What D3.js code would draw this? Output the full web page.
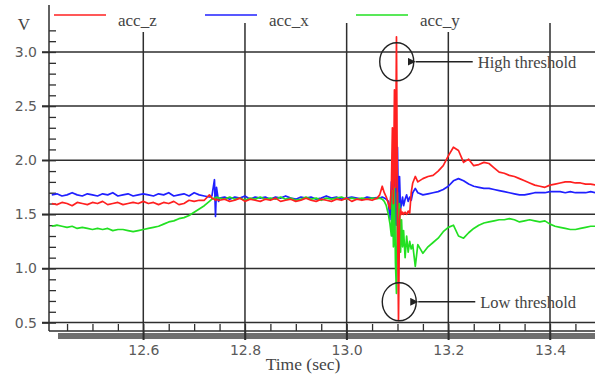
<!DOCTYPE html>
<html>
<head>
<meta charset="utf-8">
<script src="https://cdn.jsdelivr.net/npm/d3@7"></script>
<style>
  body { margin: 0; background: #fff; }
  svg { display: block; }
</style>
</head>
<body>
<div id="chart"></div>
<script>
// sample times (sec), finer around the impact
const times = [
  12.42, 12.43, 12.44, 12.45, 12.46, 12.47, 12.48, 12.49, 12.50, 12.51,
  12.52, 12.53, 12.54, 12.55, 12.56, 12.57, 12.58, 12.59, 12.60, 12.61,
  12.62, 12.63, 12.64, 12.65, 12.66, 12.67, 12.68, 12.69, 12.70, 12.71,
  12.72, 12.73,
  12.735, 12.74, 12.742, 12.744, 12.748,
  12.75, 12.76, 12.77, 12.78, 12.79, 12.80, 12.81, 12.82, 12.83, 12.84,
  12.85, 12.86, 12.87, 12.88, 12.89, 12.90, 12.91, 12.92, 12.93, 12.94,
  12.95, 12.96, 12.97, 12.98, 12.99, 13.00, 13.01, 13.02, 13.03, 13.04,
  13.05,
  13.06, 13.065, 13.07, 13.074, 13.078, 13.082, 13.085, 13.088, 13.09, 13.092,
  13.094, 13.096, 13.098, 13.1, 13.102, 13.104, 13.106, 13.108, 13.11, 13.112,
  13.115, 13.118, 13.121, 13.124, 13.127, 13.13, 13.135,
  13.14, 13.15, 13.16, 13.17, 13.18, 13.19, 13.20, 13.21, 13.22, 13.23,
  13.24, 13.25, 13.26, 13.27, 13.28, 13.29, 13.30, 13.31, 13.32, 13.33,
  13.34, 13.35, 13.36, 13.37, 13.38, 13.39, 13.40, 13.41, 13.42, 13.43,
  13.44, 13.45, 13.46, 13.47, 13.48, 13.49
];

const accZ = [
  1.60, 1.59, 1.61, 1.60, 1.58, 1.61, 1.60, 1.59, 1.61, 1.60,
  1.62, 1.59, 1.60, 1.61, 1.59, 1.60, 1.61, 1.60, 1.62, 1.60,
  1.61, 1.59, 1.61, 1.60, 1.62, 1.59, 1.60, 1.63, 1.62, 1.63,
  1.63, 1.68,
  1.65, 1.64, 1.63, 1.64, 1.63,
  1.63, 1.64, 1.62, 1.63, 1.65, 1.62, 1.64, 1.63, 1.62, 1.64,
  1.63, 1.65, 1.62, 1.63, 1.64, 1.62, 1.63, 1.65, 1.63, 1.62,
  1.64, 1.63, 1.62, 1.64, 1.63, 1.65, 1.62, 1.64, 1.63, 1.64,
  1.63,
  1.65, 1.68, 1.76, 1.70, 1.66, 1.60, 1.55, 1.75, 2.30, 1.60,
  2.65, 1.75, 3.14, 1.50, 0.52, 1.45, 1.55, 1.50, 1.52, 1.50,
  1.52, 1.50, 1.53, 1.51, 1.70, 1.79, 1.85,
  1.80, 1.83, 1.85, 1.86, 1.90, 1.95, 2.04, 2.12, 2.09, 1.98,
  2.01, 1.95, 1.96, 1.98, 1.97, 1.93, 1.89, 1.88, 1.86, 1.85,
  1.83, 1.81, 1.79, 1.77, 1.76, 1.75, 1.77, 1.78, 1.79, 1.80,
  1.80, 1.79, 1.79, 1.78, 1.78, 1.77
];

const accX = [
  1.68, 1.69, 1.67, 1.68, 1.70, 1.68, 1.67, 1.69, 1.68, 1.67,
  1.69, 1.68, 1.70, 1.67, 1.68, 1.69, 1.67, 1.68, 1.69, 1.68,
  1.67, 1.69, 1.68, 1.70, 1.67, 1.68, 1.69, 1.67, 1.70, 1.68,
  1.67, 1.66,
  1.67, 1.82, 1.48, 1.75, 1.62,
  1.65, 1.66, 1.64, 1.66, 1.65, 1.67, 1.64, 1.66, 1.65, 1.66,
  1.64, 1.66, 1.65, 1.67, 1.65, 1.64, 1.66, 1.65, 1.66, 1.64,
  1.65, 1.67, 1.65, 1.66, 1.64, 1.65, 1.66, 1.65, 1.64, 1.66,
  1.65,
  1.655, 1.65, 1.66, 1.65, 1.64, 1.62, 1.45, 1.80, 1.30, 1.95,
  1.22, 1.90, 1.40, 2.12, 1.50, 1.85, 1.55, 1.60, 1.66, 1.58,
  1.64, 1.68, 1.62, 1.66, 1.63, 1.70, 1.74,
  1.70, 1.68, 1.69, 1.70, 1.71, 1.73, 1.76, 1.81, 1.83, 1.81,
  1.78, 1.76, 1.75, 1.74, 1.74, 1.73, 1.72, 1.71, 1.70, 1.69,
  1.68, 1.68, 1.69, 1.70, 1.70, 1.70, 1.71, 1.71, 1.71, 1.70,
  1.71, 1.70, 1.70, 1.70, 1.71, 1.70
];

const accY = [
  1.39, 1.40, 1.39, 1.38, 1.39, 1.37, 1.38, 1.37, 1.36, 1.37,
  1.36, 1.37, 1.35, 1.36, 1.36, 1.35, 1.34, 1.35, 1.36, 1.37,
  1.38, 1.39, 1.41, 1.43, 1.44, 1.46, 1.47, 1.49, 1.52, 1.55,
  1.58, 1.62,
  1.64, 1.65, 1.65, 1.66, 1.65,
  1.65, 1.64, 1.66, 1.64, 1.65, 1.63, 1.65, 1.64, 1.66, 1.64,
  1.65, 1.64, 1.66, 1.64, 1.65, 1.63, 1.64, 1.66, 1.64, 1.65,
  1.63, 1.65, 1.64, 1.65, 1.66, 1.64, 1.65, 1.64, 1.65, 1.64,
  1.65,
  1.645, 1.65, 1.64, 1.62, 1.58, 1.50, 1.42, 1.30, 1.72, 1.20,
  1.75, 1.05, 0.77, 1.70, 1.10, 1.60, 1.15, 1.45, 1.20, 1.35,
  1.10, 1.30, 1.15, 1.25, 1.18, 1.22, 1.02,
  1.22, 1.14, 1.20, 1.24, 1.28, 1.34, 1.38, 1.40, 1.30, 1.28,
  1.33, 1.37, 1.40, 1.42, 1.43, 1.44, 1.45, 1.45, 1.46, 1.45,
  1.43, 1.44, 1.45, 1.44, 1.43, 1.44, 1.41, 1.39, 1.38, 1.37,
  1.36, 1.36, 1.37, 1.38, 1.39, 1.39
];

const seriesNames = ['acc_z', 'acc_x', 'acc_y'];
const seriesColors = ['#ff2020', '#2020ff', '#22e022'];
const xTicks = [12.6, 12.8, 13.0, 13.2, 13.4];
const yTicks = [0.5, 1.0, 1.5, 2.0, 2.5, 3.0];
const annotations = [
  { label: 'High threshold', t: 13.0985, v: 2.91 },
  { label: 'Low threshold', t: 13.1035, v: 0.692 }
];

const width = 595;
const height = 378;
const plot = { left: 49, right: 595, top: 5, bottom: 331 };

const x = d3.scaleLinear().domain([12.6, 13.4]).range([143.3, 550]);
const y = d3.scaleLinear().domain([0.5, 3.0]).range([322.6, 52]);

const svg = d3.select('#chart')
  .append('svg')
  .attr('width', width)
  .attr('height', height);

svg.append('rect').attr('width', width).attr('height', height).attr('fill', '#fff');

const gridColor = '#2e2e2e';

// shadow band under the time axis
svg.append('rect')
  .attr('x', 58).attr('y', 333)
  .attr('width', plot.right - 58).attr('height', 6)
  .attr('fill', '#6e6e6e');

// grid
svg.append('g').selectAll('line')
  .data(yTicks)
  .enter()
  .append('line')
  .attr('x1', plot.left - 7).attr('x2', plot.right)
  .attr('y1', d => y(d)).attr('y2', d => y(d))
  .attr('stroke', gridColor).attr('stroke-width', 1.5);

svg.append('g').selectAll('line')
  .data(xTicks)
  .enter()
  .append('line')
  .attr('x1', d => x(d)).attr('x2', d => x(d))
  .attr('y1', 23).attr('y2', 340)
  .attr('stroke', gridColor).attr('stroke-width', 1.5);

// axes
const tickFont = 'DejaVu Sans, sans-serif';

const yAxis = svg.append('g')
  .attr('transform', `translate(${plot.left},0)`)
  .call(d3.axisLeft(y).tickValues(yTicks).tickSize(7).tickPadding(5).tickFormat(d3.format('.1f')));
yAxis.select('.domain').remove();
yAxis.selectAll('line').attr('stroke', gridColor).attr('stroke-width', 1.5);
yAxis.selectAll('text').attr('font-family', tickFont).attr('font-size', 14).attr('fill', '#5a5a5a');

const yMinor = svg.append('g')
  .attr('transform', `translate(${plot.left},0)`)
  .call(d3.axisRight(y).tickValues(d3.range(5, 33).map(d => d / 10)).tickSize(7).tickFormat(''));
yMinor.select('.domain').remove();
yMinor.selectAll('line').attr('stroke', gridColor).attr('stroke-width', 1.3);

const xAxis = svg.append('g')
  .attr('transform', `translate(0,${plot.bottom})`)
  .call(d3.axisBottom(x).tickValues(xTicks).tickSize(9).tickPadding(5).tickFormat(d3.format('.1f')));
xAxis.select('.domain').remove();
xAxis.selectAll('line').attr('stroke', gridColor).attr('stroke-width', 1.5);
xAxis.selectAll('text').attr('font-family', tickFont).attr('font-size', 14).attr('fill', '#5a5a5a');

const xMinor = svg.append('g')
  .attr('transform', `translate(0,${plot.bottom})`)
  .call(d3.axisTop(x).tickValues(d3.range(249, 270).map(d => d / 20)).tickSize(7).tickFormat(''));
xMinor.select('.domain').remove();
xMinor.selectAll('line').attr('stroke', gridColor).attr('stroke-width', 1.3);

svg.append('line')
  .attr('x1', plot.left).attr('x2', plot.left)
  .attr('y1', plot.top).attr('y2', plot.bottom)
  .attr('stroke', gridColor).attr('stroke-width', 1.5);
svg.append('line')
  .attr('x1', plot.left).attr('x2', plot.right)
  .attr('y1', plot.bottom).attr('y2', plot.bottom)
  .attr('stroke', gridColor).attr('stroke-width', 1.5);

// series
svg.append('clipPath').attr('id', 'plot-clip')
  .append('rect')
  .attr('x', plot.left).attr('y', plot.top)
  .attr('width', plot.right - plot.left).attr('height', plot.bottom - plot.top);

const series = [accZ, accX, accY];
const line = d3.line()
  .x((d, i) => x(times[i]))
  .y(d => y(d));

// blue, green, then red on top
[1, 2, 0].forEach(k => {
  svg.append('path')
    .datum(series[k])
    .attr('clip-path', 'url(#plot-clip)')
    .attr('d', line)
    .attr('fill', 'none')
    .attr('stroke', seriesColors[k])
    .attr('stroke-width', 1.7)
    .attr('stroke-linejoin', 'round');
});

// legend
const serif = 'Liberation Serif, Times New Roman, serif';
const legend = svg.append('g').selectAll('g')
  .data(seriesNames)
  .enter()
  .append('g')
  .attr('transform', (d, i) => `translate(${54 + i * 151},0)`);

legend.append('line')
  .attr('x1', 0).attr('x2', 52)
  .attr('y1', 15).attr('y2', 15)
  .attr('stroke', (d, i) => seriesColors[i])
  .attr('stroke-width', 1.6);

legend.append('rect')
  .attr('x', 61).attr('y', 8)
  .attr('width', 48).attr('height', 24)
  .attr('fill', '#fff');

legend.append('text')
  .attr('x', 64).attr('y', 26)
  .attr('font-family', serif).attr('font-size', 17)
  .attr('fill', '#444')
  .text(d => d);

// axis titles
svg.append('text')
  .attr('x', 24).attr('y', 30)
  .attr('text-anchor', 'middle')
  .attr('font-family', serif).attr('font-size', 17).attr('fill', '#444')
  .text('V');

svg.append('text')
  .attr('x', 303).attr('y', 370)
  .attr('text-anchor', 'middle')
  .attr('font-family', serif).attr('font-size', 17.5).attr('fill', '#444')
  .text('Time (sec)');

// threshold callouts
svg.append('defs').append('marker')
  .attr('id', 'arrow')
  .attr('viewBox', '0 0 10 10')
  .attr('refX', 0).attr('refY', 5)
  .attr('markerWidth', 8).attr('markerHeight', 8)
  .attr('markerUnits', 'userSpaceOnUse')
  .attr('orient', 'auto-start-reverse')
  .append('path')
  .attr('d', 'M10,0 L0,5 L10,10 Z')
  .attr('fill', '#222');

const callout = svg.append('g').selectAll('g')
  .data(annotations)
  .enter()
  .append('g')
  .attr('transform', d => `translate(${x(d.t)},${y(d.v)})`);

callout.append('ellipse')
  .attr('rx', 17).attr('ry', 19)
  .attr('fill', 'none')
  .attr('stroke', '#222').attr('stroke-width', 1.4);

callout.append('line')
  .attr('x1', 19).attr('x2', 76)
  .attr('y1', 0).attr('y2', 0)
  .attr('stroke', '#222').attr('stroke-width', 1.4)
  .attr('marker-start', 'url(#arrow)');

callout.append('text')
  .attr('x', 81).attr('y', 0).attr('dy', '0.35em')
  .attr('font-family', serif).attr('font-size', 16.5)
  .attr('fill', '#444')
  .text(d => d.label);
</script>
</body>
</html>
